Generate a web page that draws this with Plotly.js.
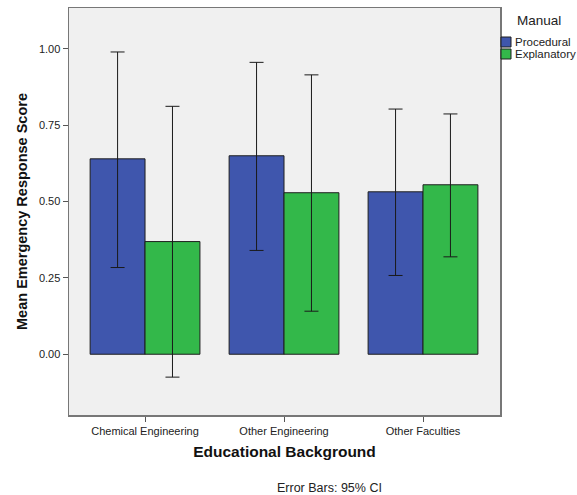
<!DOCTYPE html>
<html>
<head>
<meta charset="utf-8">
<script src="https://cdn.plot.ly/plotly-3.0.1.min.js"></script>
<style>html,body{margin:0;padding:0;background:#fff;}#chart{width:577px;height:495px;}</style>
</head>
<body>
<div id="chart"></div>
<script>
const categories = ["Chemical Engineering", "Other Engineering", "Other Faculties"];
const proceduralMean = [0.640, 0.650, 0.532];
const proceduralUpper = [0.990, 0.956, 0.803];
const proceduralLower = [0.284, 0.340, 0.258];
const explanatoryMean = [0.369, 0.529, 0.555];
const explanatoryUpper = [0.812, 0.915, 0.787];
const explanatoryLower = [-0.075, 0.141, 0.319];
const yTicks = [0, 0.25, 0.5, 0.75, 1.0];
const yTickLabels = ["0.00", "0.25", "0.50", "0.75", "1.00"];
const seriesNames = ["Procedural", "Explanatory"];
const seriesColors = ["#3F56AD", "#33B84A"];
const legendTitle = "Manual";

function diff(a, b) { return a.map((v, i) => v - b[i]); }

const W = 577, H = 495;
const M = {l: 69, r: 77, t: 8, b: 80};
const PW = W - M.l - M.r, PH = H - M.t - M.b;
function px2x(px) { return (px - M.l) / PW; }
function px2y(py) { return (H - M.b - py) / PH; }

const errStyle = {type: 'data', symmetric: false, color: '#1a1a1a', thickness: 1, width: 7};

const traces = [
  {
    type: 'bar', name: seriesNames[0], x: categories, y: proceduralMean,
    marker: {color: seriesColors[0], line: {color: '#1e1e1e', width: 1}},
    error_y: Object.assign({}, errStyle, {array: diff(proceduralUpper, proceduralMean), arrayminus: diff(proceduralMean, proceduralLower)})
  },
  {
    type: 'bar', name: seriesNames[1], x: categories, y: explanatoryMean,
    marker: {color: seriesColors[1], line: {color: '#1e1e1e', width: 1}},
    error_y: Object.assign({}, errStyle, {array: diff(explanatoryUpper, explanatoryMean), arrayminus: diff(explanatoryMean, explanatoryLower)})
  }
];

const shapes = [];
const annotations = [
  {text: 'Error Bars: 95% CI', xref: 'paper', yref: 'paper', x: px2x(329), y: px2y(488), xanchor: 'center', yanchor: 'middle', showarrow: false, font: {size: 12.5, color: '#222'}},
  {text: legendTitle, xref: 'paper', yref: 'paper', x: px2x(539), y: px2y(20), xanchor: 'center', yanchor: 'middle', showarrow: false, font: {size: 13.5, color: '#222'}}
];
seriesNames.forEach((name, i) => {
  const top = 37 + i * 12;
  shapes.push({type: 'rect', xref: 'paper', yref: 'paper', x0: px2x(501), x1: px2x(511), y0: px2y(top), y1: px2y(top + 10),
    fillcolor: seriesColors[i], line: {color: '#1e1e1e', width: 1}});
  annotations.push({text: name, xref: 'paper', yref: 'paper', x: px2x(513), y: px2y(top + 5), xanchor: 'left', yanchor: 'middle',
    showarrow: false, font: {size: 11.5, color: '#222'}});
});

const layout = {
  width: W, height: H,
  margin: Object.assign({autoexpand: false}, M),
  paper_bgcolor: '#ffffff',
  plot_bgcolor: '#F0F0F0',
  barmode: 'group', bargap: 0.21, bargroupgap: 0,
  font: {family: 'Liberation Sans, Arial, sans-serif', size: 11, color: '#222'},
  showlegend: false,
  xaxis: {
    type: 'category', range: [-0.547, 2.554],
    showline: true, linecolor: '#777', linewidth: 1.5, mirror: true,
    ticks: 'outside', ticklen: 5, tickcolor: '#555', tickwidth: 1,
    showgrid: false, zeroline: false,
    tickfont: {size: 11, color: '#222'},
    title: {text: 'Educational Background', font: {size: 15.5, color: '#111', weight: 'bold'}, standoff: 10}
  },
  yaxis: {
    range: [-0.199, 1.134],
    tickvals: yTicks, ticktext: yTickLabels,
    showline: true, linecolor: '#777', linewidth: 1.5, mirror: true,
    ticks: 'outside', ticklen: 5, tickcolor: '#555', tickwidth: 1,
    showgrid: false, zeroline: false,
    tickfont: {size: 11, color: '#222'},
    title: {text: 'Mean Emergency Response Score', font: {size: 14.5, color: '#111', weight: 'bold'}, standoff: 8}
  },
  shapes: shapes,
  annotations: annotations
};

Plotly.newPlot('chart', traces, layout, {displayModeBar: false, staticPlot: true});
</script>
</body>
</html>
